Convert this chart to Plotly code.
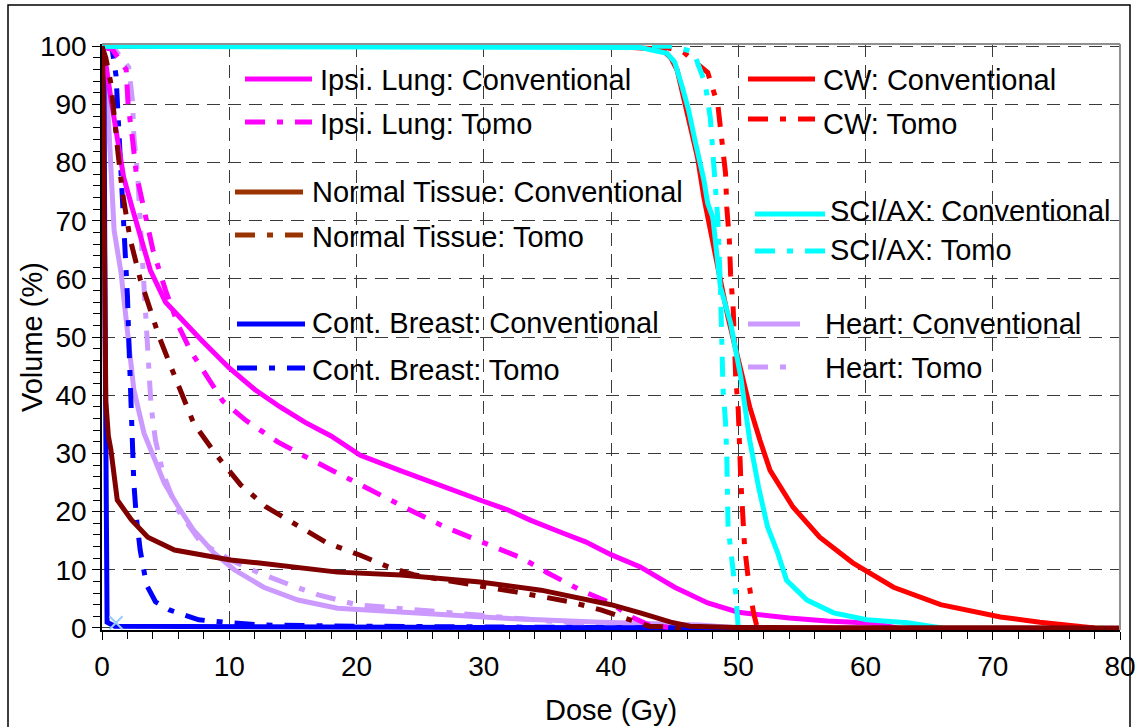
import plotly.graph_objects as go

# ---------------- data (dose in Gy, volume in %) ----------------
ipsi_conv_d = [0, 0.3, 0.7, 1.2, 1.7, 2.4, 2.8, 3.8, 5, 6.5, 7.8, 10, 12, 14, 16, 18, 20.3, 23.5, 26.5, 29.7, 32, 33.7, 36, 38, 40, 42.3, 45, 47.6, 50, 52, 54, 57, 60.6, 62.5]
ipsi_conv_v = [100, 97, 91, 84, 77.5, 72, 69, 61.5, 56, 52.5, 49.5, 44.7, 41, 38, 35.3, 33, 29.7, 27, 24.5, 22, 20.2, 18.5, 16.5, 14.8, 12.6, 10.5, 7, 4.3, 2.7, 2.1, 1.7, 1.2, 0.8, 0]
ipsi_tomo_d = [0, 0.8, 1.9, 2.05, 2.4, 2.7, 3.2, 4, 5, 6, 7, 8, 9.5, 11.3, 13.8, 16.2, 18.5, 21, 24, 27, 30.5, 33, 35, 37.6, 40, 41.5, 43, 45]
ipsi_tomo_v = [100, 99.5, 96, 90, 84, 78, 73, 65, 58, 52, 47.5, 44, 39, 35.7, 32, 29.2, 26.6, 23.7, 20.5, 17.3, 14.3, 12, 9.5, 6.5, 4.3, 2, 0.5, 0]

nt_conv_d = [0, 0.05, 0.1, 0.15, 0.2, 0.3, 0.5, 0.7, 1.2, 2.3, 3.6, 5.7, 8, 10.1, 12.2, 14.8, 18.5, 23.5, 29.7, 34.5, 37.6, 40, 42.3, 44.7, 46.2, 50, 60, 70, 80.3]
nt_conv_v = [100, 98, 90, 70, 50, 39, 33, 30.6, 22, 18.6, 15.6, 13.4, 12.5, 11.7, 11.2, 10.5, 9.6, 9.1, 7.9, 6.5, 5.2, 4, 2.6, 1, 0.3, 0.1, 0.05, 0.02, 0]
nt_tomo_d = [0, 0.3, 0.7, 0.95, 1.25, 1.6, 2.2, 3, 3.7, 4.5, 5.4, 6.3, 7.2, 9, 10.9, 12.9, 15.4, 17.7, 20.3, 22.5, 24.6, 29.4, 32.5, 36.8, 39.2, 41.5, 43, 46]
nt_tomo_v = [100, 98, 93.6, 87.6, 81.8, 75, 67, 60, 55, 50, 45, 40, 35.2, 29.7, 24.6, 20.8, 17.5, 14.6, 12.5, 10.5, 9.1, 7.4, 6.2, 4.5, 3.1, 1.4, 0.3, 0]

cb_conv_d = [0, 0.15, 0.25, 0.3, 0.4, 1, 10, 30, 50]
cb_conv_v = [100, 98, 50, 10, 1, 0.3, 0.2, 0.1, 0]
cb_tomo_d = [0, 0.8, 1.1, 1.25, 1.4, 1.6, 1.8, 2.0, 2.1, 2.2, 2.3, 2.4, 2.5, 2.7, 3.0, 3.5, 4.2, 5.3, 7.6, 10.1, 12.7, 20, 30, 40, 45]
cb_tomo_v = [100, 99.5, 95, 89, 83, 75, 66, 57, 50, 43, 36.6, 30.9, 25, 19, 13.4, 7.4, 4.5, 3.1, 1.4, 0.9, 0.5, 0.3, 0.2, 0.1, 0]

cw_conv_d = [0, 40, 44, 44.7, 45.2, 45.7, 46.2, 46.8, 47.3, 47.6, 48, 48.6, 49.2, 50.2, 50.9, 51.7, 52.5, 54.3, 56.4, 59, 62.2, 65.9, 70.6, 73.7, 76.8, 78]
cw_conv_v = [100, 100, 99.5, 98, 95.9, 91.2, 86.8, 80.9, 74, 70.6, 65.5, 59.8, 53.4, 44.8, 38, 32.3, 27.1, 20.8, 15.6, 11.2, 7, 4, 1.9, 1, 0.3, 0]
cw_tomo_d = [0, 44, 45.7, 47.6, 48.4, 48.7, 49.0, 49.1, 49.3, 49.4, 49.6, 49.8, 50.0, 50.2, 50.5, 50.8, 51.2, 51.5]
cw_tomo_v = [100, 100, 99, 95.5, 89.9, 83.8, 78.2, 72.3, 66.7, 60.7, 55, 43.1, 37.5, 25.4, 13.9, 8.2, 2.6, 0]

sci_conv_d = [0, 42.3, 44.4, 45, 45.6, 46.1, 46.6, 47.3, 47.6, 48, 48.6, 49.4, 50.2, 50.9, 51.6, 52.3, 53.1, 53.8, 55.4, 57.5, 60.1, 63.3, 66]
sci_conv_v = [100, 99.8, 98.8, 97.3, 93, 89, 83.8, 77, 73, 70.6, 58.6, 52.4, 43.1, 32.3, 24.2, 17.4, 12.9, 8.2, 4.8, 2.6, 1.4, 0.9, 0]
sci_tomo_d = [0, 45, 46.5, 47.4, 47.8, 48.0, 48.2, 48.4, 48.6, 48.7, 48.8, 49.0, 49.1, 49.2, 49.5, 49.8, 50.0]
sci_tomo_v = [100, 100, 99, 93.6, 87.8, 81.8, 76.1, 70.1, 58.6, 50, 41.2, 35.4, 29.4, 17.4, 11.7, 6, 0]

heart_conv_d = [0, 0.3, 0.55, 0.95, 1.5, 2.0, 2.5, 3.3, 4.1, 4.9, 6, 7.2, 8.8, 10.4, 12.7, 15.4, 18.5, 23.5, 31.3, 39.2, 47, 50]
heart_conv_v = [100, 95, 85.6, 68.4, 61, 51, 41, 33.5, 28.9, 24.9, 20.8, 16.8, 12.9, 10, 7, 4.8, 3.4, 2.7, 1.7, 1, 0.5, 0]
heart_tomo_d = [0, 1, 2.1, 2.4, 2.5, 2.8, 3.0, 3.2, 3.4, 3.6, 3.85, 4.2, 4.8, 5.8, 7.8, 10.1, 12.3, 14.8, 17, 20, 25, 30, 35, 40, 45]
heart_tomo_v = [100, 99.5, 96.4, 90.5, 84.7, 78, 70, 62, 54, 46, 38.3, 32.3, 26.6, 20.8, 14.6, 11.7, 9.5, 7.4, 5.7, 4, 3, 2, 1.2, 0.5, 0]

marker_d = [1.1]
marker_v = [0.9]

x_ticks = [0, 10, 20, 30, 40, 50, 60, 70, 80]
y_ticks = [0, 10, 20, 30, 40, 50, 60, 70, 80, 90, 100]

legend_names = ["Ipsi. Lung: Conventional", "Ipsi. Lung: Tomo",
                "Normal Tissue: Conventional", "Normal Tissue: Tomo",
                "Cont. Breast: Conventional", "Cont. Breast: Tomo",
                "CW: Conventional", "CW: Tomo",
                "SCI/AX: Conventional", "SCI/AX: Tomo",
                "Heart: Conventional", "Heart: Tomo"]

# ---------------- styles ----------------
MAG, MAROON, BROWN, BLUE, RED, CYAN, LAV = "#FF00FF", "#800000", "#993300", "#0000FF", "#FF0000", "#00FFFF", "#CC99FF"
TOMO_DASH = "20px,12px,6px,12px"
FONT = "Liberation Sans, Arial, sans-serif"

W, H = 1135, 727
PL, PR, PT, PB = 102, 1120, 44, 630   # plot area in pixels


def px(x):
    return (x - PL) / (PR - PL)


def py(y):
    return (PB - y) / (PB - PT)


fig = go.Figure()

series = [
    (heart_conv_d, heart_conv_v, LAV, None),
    (heart_tomo_d, heart_tomo_v, LAV, TOMO_DASH),
    (cb_conv_d, cb_conv_v, BLUE, None),
    (cb_tomo_d, cb_tomo_v, BLUE, TOMO_DASH),
    (ipsi_conv_d, ipsi_conv_v, MAG, None),
    (ipsi_tomo_d, ipsi_tomo_v, MAG, TOMO_DASH),
    (cw_conv_d, cw_conv_v, RED, None),
    (cw_tomo_d, cw_tomo_v, RED, TOMO_DASH),
    (sci_conv_d, sci_conv_v, CYAN, None),
    (sci_tomo_d, sci_tomo_v, CYAN, TOMO_DASH),
    (nt_tomo_d, nt_tomo_v, MAROON, TOMO_DASH),
    (nt_conv_d, nt_conv_v, MAROON, None),
]
for d, v, c, dash in series:
    fig.add_trace(go.Scatter(x=d, y=v, mode="lines",
                             line=dict(color=c, width=5, dash=dash or "solid"),
                             showlegend=False, hoverinfo="skip"))

fig.add_trace(go.Scatter(x=marker_d, y=marker_v, mode="markers",
                         marker=dict(symbol="x-thin-open", size=13, color="#99CCFF",
                                     line=dict(color="#99CCFF", width=2)),
                         showlegend=False, hoverinfo="skip", cliponaxis=False))

# ---------------- manual legend ----------------
legend_layout = [
    # x0, x1, y_line, x_text, y_text
    (245, 312, 79, 318, 80),
    (245, 312, 122, 318, 124),
    (235, 303, 192, 310, 192),
    (235, 303, 235, 310, 237),
    (237, 305, 324, 310, 323),
    (237, 305, 368, 310, 370),
    (748, 815, 79, 821, 80),
    (748, 815, 119, 821, 124),
    (755, 825, 214, 828, 211),
    (755, 825, 251, 828, 250),
    (748, 800, 324, 823, 324),
    (748, 790, 367, 823, 368),
]
legend_colors = [MAG, MAG, BROWN, BROWN, BLUE, BLUE, RED, RED, CYAN, CYAN, LAV, LAV]
shapes = []
annotations = []
for i, name in enumerate(legend_names):
    x0, x1, yl, xt, yt = legend_layout[i]
    dash = "solid" if i % 2 == 0 else TOMO_DASH
    shapes.append(dict(type="line", xref="paper", yref="paper",
                       x0=px(x0), x1=px(x1), y0=py(yl), y1=py(yl),
                       line=dict(color=legend_colors[i], width=5, dash=dash)))
    annotations.append(dict(text=name, xref="paper", yref="paper",
                            x=px(xt), y=py(yt), xanchor="left", yanchor="middle",
                            showarrow=False, font=dict(family=FONT, size=29, color="black")))

# plot-area top/right borders (grey)
shapes.append(dict(type="line", xref="paper", yref="paper", x0=0, x1=1, y0=1, y1=1,
                   line=dict(color="#909090", width=2)))
shapes.append(dict(type="line", xref="paper", yref="paper", x0=1, x1=1, y0=0, y1=1,
                   line=dict(color="#909090", width=2)))
# outer chart frame
shapes.append(dict(type="rect", xref="paper", yref="paper",
                   x0=px(8), x1=px(1130), y0=py(745), y1=py(5),
                   line=dict(color="black", width=1.5), fillcolor="rgba(0,0,0,0)"))

# axis titles
annotations.append(dict(text="Volume (%)", xref="paper", yref="paper", x=px(32), y=py(337),
                        xanchor="center", yanchor="middle", textangle=-90, showarrow=False,
                        font=dict(family=FONT, size=29, color="black")))
annotations.append(dict(text="Dose (Gy)", xref="paper", yref="paper", x=px(611), y=py(710),
                        xanchor="center", yanchor="middle", showarrow=False,
                        font=dict(family=FONT, size=29, color="black")))

grid = dict(showgrid=True, gridcolor="#3a3a3a", gridwidth=1, griddash="13px,8px")

fig.update_layout(
    width=W, height=H,
    margin=dict(l=PL, r=W - PR, t=PT, b=H - PB, autoexpand=False),
    paper_bgcolor="white", plot_bgcolor="white",
    showlegend=False,
    shapes=shapes, annotations=annotations,
    font=dict(family=FONT, size=28, color="black"),
    xaxis=dict(range=[0, 80], tickvals=x_ticks, ticks="outside", ticklen=8, tickwidth=1,
               tickcolor="black", showline=True, linecolor="black", linewidth=1.5,
               zeroline=False, ticklabelstandoff=3, ticklabeloverflow="allow",
               tickfont=dict(family=FONT, size=28, color="black"),
               minor=dict(dtick=2, ticks="outside", ticklen=7, tickcolor="black", showgrid=False),
               **grid),
    yaxis=dict(range=[-0.35, 100.4], tickvals=y_ticks, ticks="outside", ticklen=8, tickwidth=1,
               tickcolor="black", showline=True, linecolor="black", linewidth=1.5,
               zeroline=False, ticksuffix="\u00a0\u2009",
               ticklabeloverflow="allow",
               tickfont=dict(family=FONT, size=28, color="black"),
               minor=dict(dtick=2, ticks="outside", ticklen=7, tickcolor="black", showgrid=False),
               **grid),
)

fig.write_html("out.html", config={"displayModeBar": False},
               post_script="document.body.style.margin='0px';document.body.style.overflow='hidden';")
